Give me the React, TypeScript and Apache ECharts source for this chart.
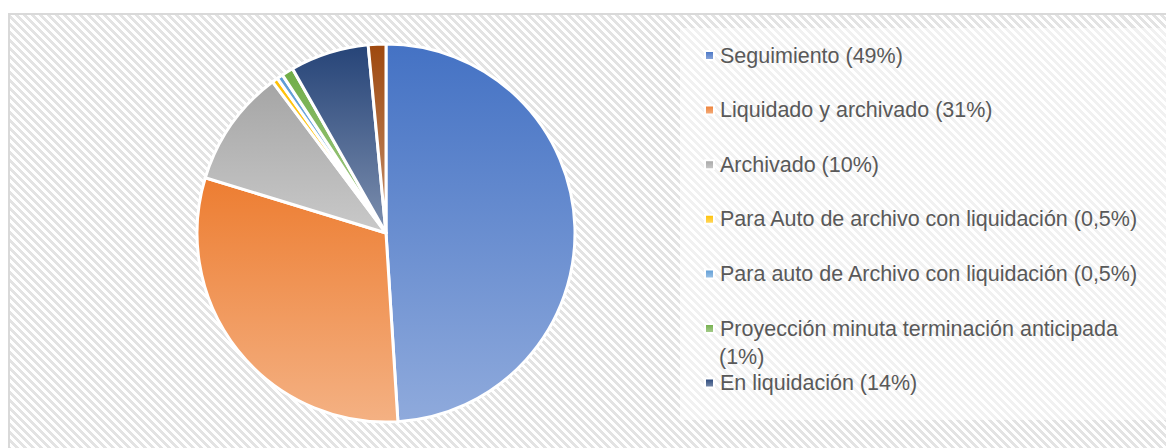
import React, { useEffect, useRef } from "react";
import * as echarts from "echarts";

const categories = [
  "Seguimiento (49%)",
  "Liquidado y archivado (31%)",
  "Archivado (10%)",
  "Para Auto de archivo con liquidación (0,5%)",
  "Para auto de Archivo con liquidación (0,5%)",
  "Proyección minuta terminación anticipada (1%)",
  "En liquidación (14%)",
  "Otros",
];
const values = [48.8, 30.6, 10.0, 0.5, 0.5, 1.0, 6.7, 1.5];
const colors = ["#4472C4", "#ED7D31", "#A5A5A5", "#FFC000", "#5B9BD5", "#70AD47", "#264478", "#9E480E"];
const legendNames = categories.slice(0, 7);

function tint(hex: string, t: number): string {
  const n = parseInt(hex.slice(1), 16);
  const r = (n >> 16) & 255, g = (n >> 8) & 255, b = n & 255;
  const f = (c: number) => Math.round(c + (255 - c) * t).toString(16).padStart(2, "0");
  return "#" + f(r) + f(g) + f(b);
}

export default function App() {
  const ref = useRef<HTMLDivElement>(null);
  useEffect(() => {
    if (!ref.current) return;
    const chart = echarts.init(ref.current, undefined, { renderer: "svg" });
    const font = "'Liberation Sans', Arial, sans-serif";
    const firstY = 55.5;
    const step = 54.6;
    const legends = legendNames.map((name, i) => ({
      data: [name],
      orient: "vertical",
      left: 704,
      top: firstY + i * step - 12,
      padding: 0,
      itemWidth: 9,
      itemHeight: 9,
      itemGap: 0,
      icon: "rect",
      selectedMode: false,
      formatter: (n: string) =>
        n.startsWith("Proyección") ? n.replace(" (1%)", "") : n,
      textStyle: { color: "#595959", fontSize: 21.5, fontFamily: font, lineHeight: 24, padding: [0, 0, 0, 1] },
    }));
    chart.setOption({
      animation: false,
      backgroundColor: "transparent",
      legend: legends,
      graphic: [
        {
          type: "rect",
          z: 0,
          shape: { x: 680, y: 28, width: 490, height: 392 },
          style: { fill: "rgba(255,255,255,0.5)" },
        },
        {
          type: "text",
          z: 10,
          left: 719,
          top: 346,
          style: { text: "(1%)", fill: "#595959", font: `21.5px ${font}` },
        },
      ],
      series: [
        {
          type: "pie",
          center: [386, 233],
          radius: 189,
          startAngle: 90,
          clockwise: true,
          label: { show: false },
          labelLine: { show: false },
          emphasis: { disabled: true },
          itemStyle: { borderColor: "#ffffff", borderWidth: 3 },
          data: categories.map((name, i) => ({
            name,
            value: values[i],
            itemStyle: {
              color: {
                type: "linear",
                x: 0,
                y: 0,
                x2: 0,
                y2: 1,
                colorStops: [
                  { offset: 0, color: colors[i] },
                  { offset: 1, color: tint(colors[i], 0.4) },
                ],
              },
            },
          })),
        },
      ],
    });
    return () => chart.dispose();
  }, []);
  return (
    <div style={{ position: "fixed", left: 0, top: 0, width: 1166, height: 448, overflow: "hidden", background: "#fff" }}>
      <div
        style={{
          position: "absolute",
          left: 8,
          top: 13,
          width: 1400,
          height: 700,
          borderTop: "2px solid #d9d9d9",
          borderLeft: "2px solid #d9d9d9",
          background:
            "repeating-linear-gradient(45deg, #e3e3e3 0px, #e3e3e3 2.83px, #ffffff 2.83px, #ffffff 5.66px)",
        }}
      />
      <div ref={ref} style={{ position: "absolute", left: 0, top: 0, width: 1166, height: 448 }} />
    </div>
  );
}
